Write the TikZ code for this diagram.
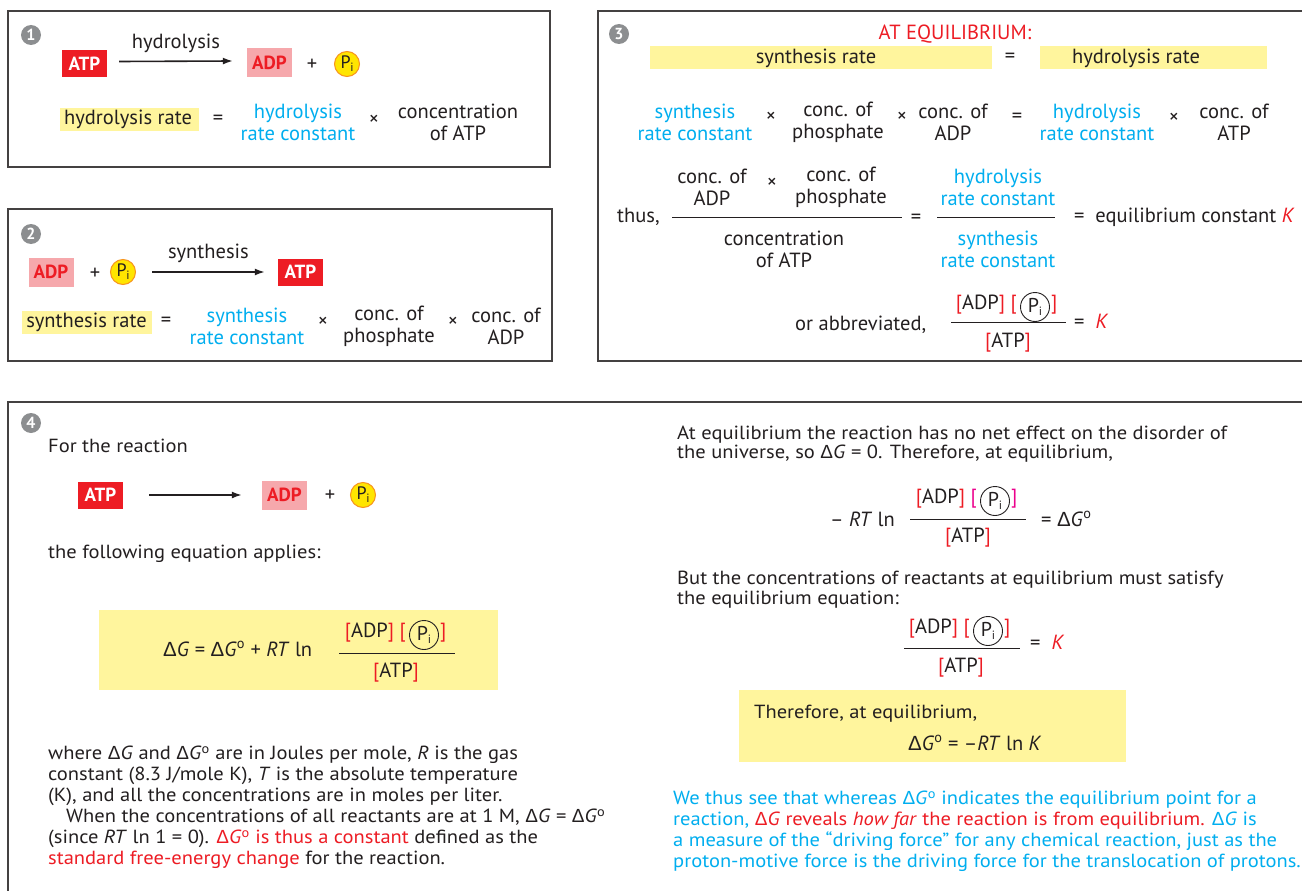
\documentclass[tikz,border=0pt]{standalone}
\usepackage{fontspec}
\setmainfont{PT Sans}
\newfontfamily\parfont[FakeStretch=1.08]{PT Sans}
\newfontfamily\grk{Liberation Sans}
\usetikzlibrary{arrows.meta}
\definecolor{myred}{RGB}{237,28,36}
\definecolor{mypink}{RGB}{246,168,172}
\definecolor{hl}{RGB}{255,245,157}
\definecolor{myblue}{RGB}{0,174,239}
\definecolor{badgegray}{RGB}{140,142,144}
\definecolor{ink}{RGB}{35,31,32}
\definecolor{piyellow}{RGB}{255,229,0}
\definecolor{piorange}{RGB}{247,148,29}
\definecolor{mymag}{RGB}{236,0,140}
\newcommand\fs{\fontsize{20.5}{22}\selectfont}
\newcommand\pfs{\parfont\fontsize{19}{21}\selectfont}
\newcommand\dlt{{\grk Δ}}
\newcommand\dG{\dlt\textit{G}}
\newcommand\dGo{\dlt\textit{G}\textsuperscript{o}}
\newcommand\Pii{P\kern-0.3pt\raisebox{-0.35ex}{\fontsize{12}{12}\selectfont i}}
\newcommand\numer[4]{%
  \node[picirc] (#1c) at (#2+27,#3) {\Pii};
  \node[txt, anchor=mid east] (#1a) at ([xshift=-3pt]#1c.west) {\textcolor{myred}{[}ADP\textcolor{myred}{]} \textcolor{#4}{[}};
  \node[txt, anchor=mid west] (#1b) at ([xshift=1pt]#1c.east) {\textcolor{#4}{]}};
}
\begin{document}
\begin{tikzpicture}[x=1pt,y=-1pt,
  txt/.style={font=\fs, text=ink, inner sep=0pt, align=center},
  blu/.style={txt, text=myblue},
  ln/.style={txt, anchor=mid west, align=left, text height=12pt, text depth=3pt},
  pl/.style={ln, font=\pfs},
  tms/.style={txt, font=\fontsize{20}{20}\selectfont},
  badge/.style={circle, fill=badgegray, text=white, minimum size=20pt, inner sep=0pt, font=\fontsize{16}{16}\selectfont\bfseries},
  redbox/.style={fill=myred, text=white, font=\fontsize{19}{19}\selectfont\bfseries, minimum width=45pt, minimum height=27pt, inner sep=0pt},
  pinkbox/.style={fill=mypink, text=myred, font=\fontsize{19}{19}\selectfont\bfseries, minimum width=45pt, minimum height=29pt, inner sep=0pt},
  pibadge/.style={circle, fill=piyellow, draw=piorange, line width=1pt, minimum size=25pt, inner sep=0pt, font=\fontsize{18}{18}\selectfont, text=ink},
  picirc/.style={circle, draw=ink, line width=0.9pt, minimum size=29pt, inner sep=0pt, font=\fontsize{20}{20}\selectfont, text=ink},
  hlbar/.style={fill=hl, inner sep=0pt},
  panel/.style={draw=ink!85, line width=1.2pt},
  arr/.style={-{Latex[length=10pt,width=7pt]}, line width=1.6pt, draw=ink},
  fracline/.style={line width=1pt, draw=ink}]
\useasboundingbox (0,0) rectangle (1302,891);
\fill[white] (0,0) rectangle (1302,891);

% ---------- panel 1
\draw[panel] (8,11) rectangle (550,167);
\node[badge] (b1) at (31,35) {1};
\node[redbox] (atp1) at (84.5,63.5) {ATP};
\node[pinkbox] (adp1) at (269.5,63) {ADP};
\node[txt] (plus1) at (312,65) {+};
\node[pibadge] (pi1) at (347,64) {\Pii};
\draw[arr] ([xshift=12pt,yshift=2pt]atp1.east) -- ([xshift=-14pt,yshift=2pt]adp1.west)
  node[txt, midway, above=8pt] (hyd1) {hydrolysis};
\node[hlbar, minimum width=139pt, minimum height=23pt] (hrbar1) at (129.5,119) {};
\node[txt] (hr1) at (128,119) {hydrolysis rate};
\node[txt] (eq1) at (218,120) {=};
\node[blu] (hk1) at (298,122) {hydrolysis\\rate constant};
\node[tms] (x1) at (374,120) {×};
\node[txt] (cat1) at (458,122) {concentration\\of ATP};

% ---------- panel 2
\draw[panel] (8,209) rectangle (552,361);
\node[badge] (b2) at (31,234) {2};
\node[pinkbox] (adp2) at (51,272) {ADP};
\node[txt] (plus2) at (95,274) {+};
\node[pibadge] (pi2) at (123,272) {\Pii};
\node[redbox] (atp2) at (300.5,272) {ATP};
\draw[arr] ([xshift=16pt]pi2.east) -- ([xshift=-13pt]atp2.west)
  node[txt, midway, above=8pt] (syn2) {synthesis};
\node[hlbar, minimum width=130pt, minimum height=23pt] (srbar2) at (87,322.5) {};
\node[txt] (sr2) at (86.5,322) {synthesis rate};
\node[txt] (eq2) at (166,322) {=};
\node[blu] (sk2) at (247,326) {synthesis\\rate constant};
\node[tms] (x2a) at (323,322) {×};
\node[txt] (cp2) at (389,326) {conc. of\\phosphate};
\node[tms] (x2b) at (453,322) {×};
\node[txt] (ca2) at (506,326) {conc. of\\ADP};

% ---------- panel 3
\draw[panel] (1302,11) -- (598,11) -- (598,361) -- (1302,361);
\node[badge] (b3) at (619,34) {3};
\node[txt, text=myred] (ateq) at (955,34) {AT EQUILIBRIUM:};
\node[hlbar, minimum width=342pt, minimum height=23pt] (bar3a) at (821,58) {};
\node[hlbar, minimum width=227pt, minimum height=23pt] (bar3b) at (1153.5,58) {};
\node[txt] (sr3) at (816,58) {synthesis rate};
\node[txt] (eq3a) at (1010,58) {=};
\node[txt] (hr3) at (1136,58) {hydrolysis rate};

\node[blu] (sk3) at (695,122) {synthesis\\rate constant};
\node[tms] (x3a) at (771,117) {×};
\node[txt] (cp3) at (838,122) {conc. of\\phosphate};
\node[tms] (x3b) at (902,117) {×};
\node[txt] (ca3) at (953,122) {conc. of\\ADP};
\node[txt] (eq3b) at (1017,118) {=};
\node[blu] (hk3) at (1097,122) {hydrolysis\\rate constant};
\node[tms] (x3c) at (1174,118) {×};
\node[txt] (ct3) at (1234,122) {conc. of\\ATP};

\node[ln] (thus) at (617,220) {thus,};
\node[txt] (fa) at (712,187) {conc. of\\ADP};
\node[tms] (fx) at (772,183) {×};
\node[txt] (fp) at (841,187) {conc. of\\phosphate};
\draw[fracline] (672,217) -- (902,217);
\node[txt] (fct) at (784,249) {concentration\\of ATP};
\node[txt] (feq) at (916,219) {=};
\node[blu] (fhk) at (998,187) {hydrolysis\\rate constant};
\draw[fracline] (937,217) -- (1055,217);
\node[blu] (fsk) at (998,249) {synthesis\\rate constant};
\node[ln] (fK) at (1074,220) {=\ \ equilibrium constant \textcolor{myred}{\textit{K}}};

\node[ln] (abbr) at (795,328) {or abbreviated,};
\numer{ab}{1008}{307}{myred}
\draw[fracline] (951,322) -- (1066,322);
\node[txt] (abd) at (1008,343) {\textcolor{myred}{[}ATP\textcolor{myred}{]}};
\node[ln] (abk) at (1074,326) {=\ \ \textcolor{myred}{\textit{K}}};

% ---------- panel 4
\draw[panel] (1302,402) -- (8,402) -- (8,891);
\node[badge] (b4) at (31,423) {4};
\node[pl] (forr) at (48,450) {For the reaction};
\node[redbox] (atp4) at (100.5,495) {ATP};
\node[pinkbox] (adp4) at (284.5,495) {ADP};
\node[txt] (plus4) at (330,496) {+};
\node[pibadge] (pi4) at (363,495) {\Pii};
\draw[arr] ([xshift=26pt]atp4.east) -- ([xshift=-20pt]adp4.west);
\node[pl] (follow) at (48,556) {the following equation applies:};

\node[hlbar, minimum width=399pt, minimum height=80pt] (ybox4) at (298.5,650) {};
\node[ln] (dgeq) at (163,654) {\dG{} = \dGo{} + \textit{RT} ln};
\numer{fe}{397}{635}{myred}
\draw[fracline] (339,653) -- (455,653);
\node[txt] (fed) at (396,673) {\textcolor{myred}{[}ATP\textcolor{myred}{]}};

\node[pl] (w1) at (48,757) {where \dG{} and \dGo{} are in Joules per mole, \textit{R} is the gas};
\node[pl] (w2) at (48,778) {constant (8.3 J/mole K), \textit{T} is the absolute temperature};
\node[pl] (w3) at (48,799) {(K), and all the concentrations are in moles per liter.};
\node[pl] (w4) at (66,820) {When the concentrations of all reactants are at 1 M, \dG{} = \dGo};
\node[pl] (w5) at (48,841) {(since \textit{RT} ln 1 = 0). \textcolor{myred}{\dGo{} is thus a constant} defined as the};
\node[pl] (w6) at (48,862) {\textcolor{myred}{standard free-energy change} for the reaction.};

\node[pl] (r1) at (677,437) {At equilibrium the reaction has no net effect on the disorder of};
\node[pl] (r2) at (677,456) {the universe, so \dG{} = 0. Therefore, at equilibrium,};
\node[txt, anchor=mid east] (mrt) at (895,524) {– \textit{RT} ln};
\numer{mr}{968}{501}{mymag}
\draw[fracline] (910,519) -- (1026,519);
\node[txt] (mrd) at (968,538) {\textcolor{myred}{[}ATP\textcolor{myred}{]}};
\node[ln] (mrq) at (1041,524) {= \dGo};

\node[pl] (r3) at (677,582) {But the concentrations of reactants at equilibrium must satisfy};
\node[pl] (r4) at (677,602) {the equilibrium equation:};
\numer{eqk}{961}{631}{myred}
\draw[fracline] (904,648) -- (1020,648);
\node[txt] (eqkd) at (961,668) {\textcolor{myred}{[}ATP\textcolor{myred}{]}};
\node[ln] (eqkk) at (1030,647) {=\ \ \textcolor{myred}{\textit{K}}};

\node[hlbar, minimum width=387pt, minimum height=72pt] (ybox5) at (932.5,726) {};
\node[pl] (th1) at (754,716) {Therefore, at equilibrium,};
\node[ln] (th2) at (908,748) {\dGo{} = –\textit{RT} ln \textit{K}};

\node[pl, text=myblue] (bl1) at (673,802) {We thus see that whereas \dGo{} indicates the equilibrium point for a};
\node[pl, text=myblue] (bl2) at (673,823) {reaction, \textcolor{myred}{\dG{} reveals \textit{how far} the reaction is from equilibrium.} \dG{} is};
\node[pl, text=myblue] (bl3) at (673,844) {a measure of the “driving force” for any chemical reaction, just as the};
\node[pl, text=myblue] (bl4) at (673,865) {proton-motive force is the driving force for the translocation of protons.};
\end{tikzpicture}
\end{document}
